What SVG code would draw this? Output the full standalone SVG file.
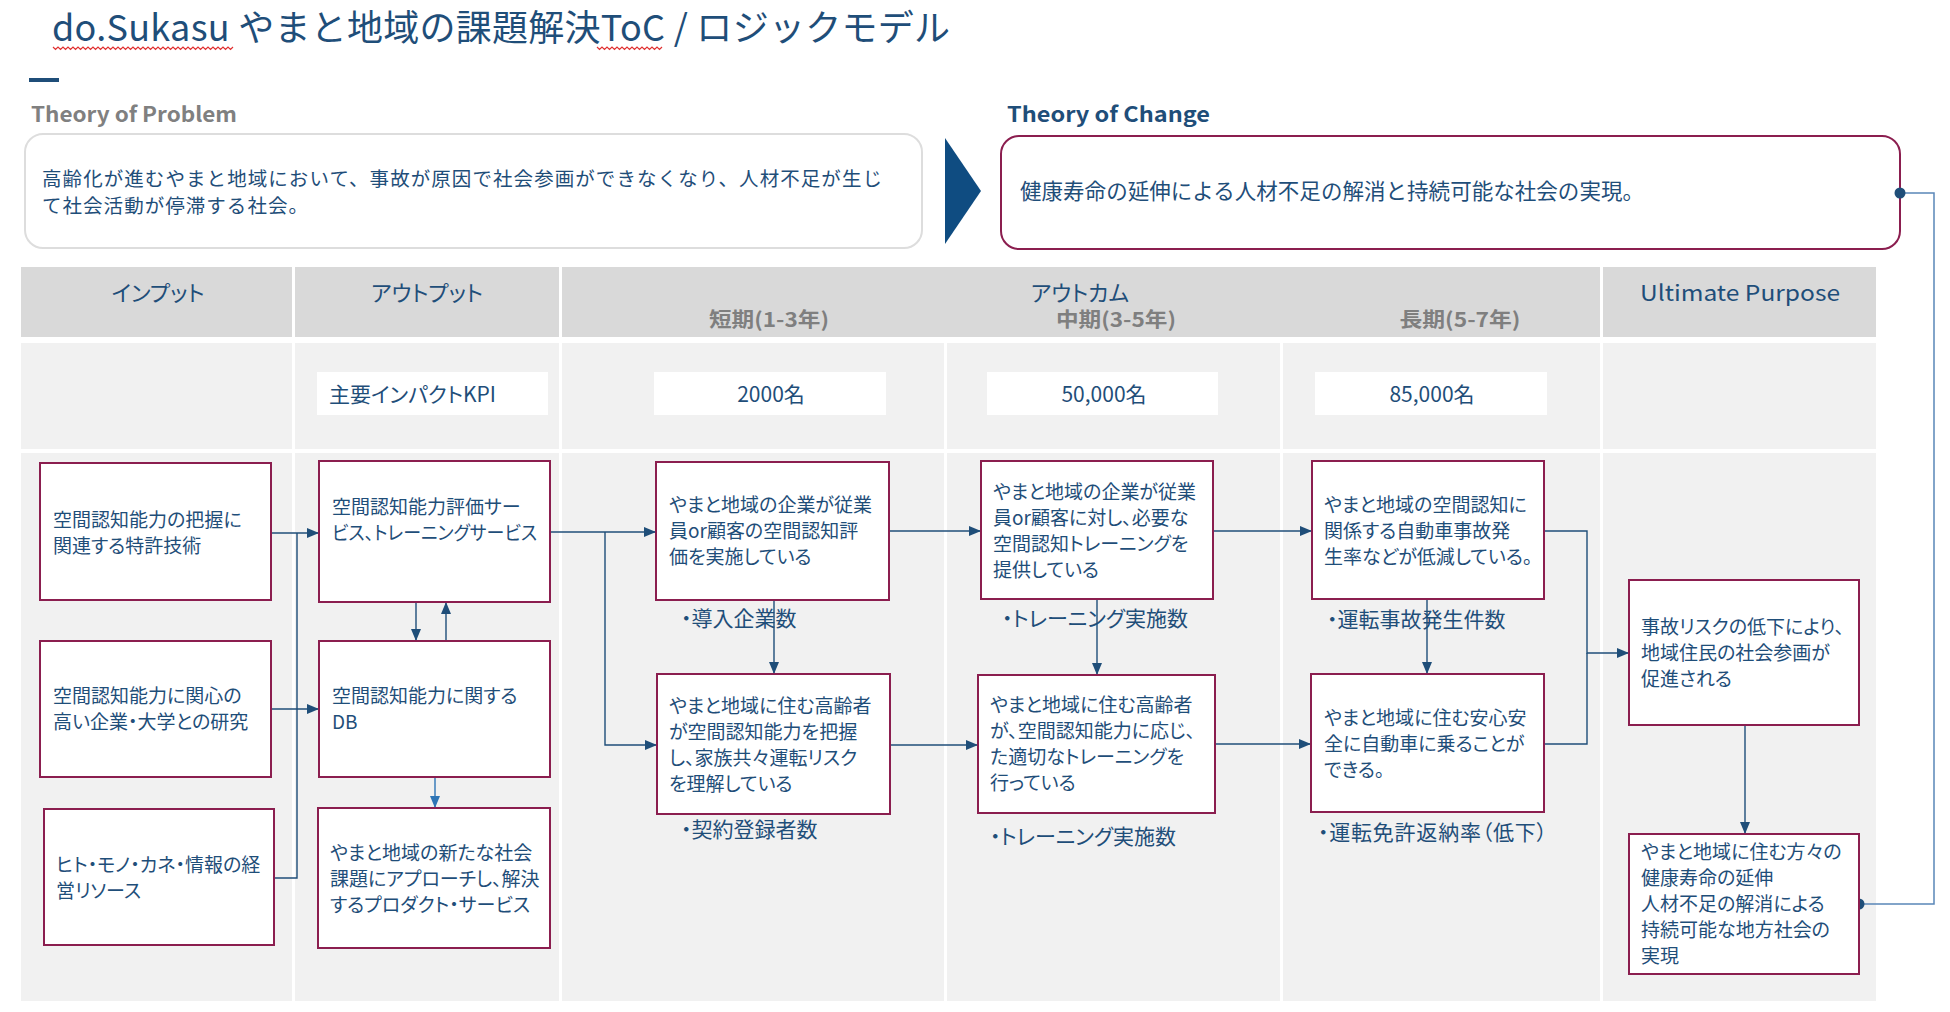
<svg xmlns="http://www.w3.org/2000/svg" width="1950" height="1012" viewBox="0 0 1950 1012">
<style>
text{font-family:"Noto Sans CJK JP","Noto Sans",sans-serif;fill:#1F4E79}
.bx{fill:#fff;stroke:#8B1E4F;stroke-width:2}
.t{font-size:19px;font-feature-settings:"palt" 1}
.kpi{font-size:21px;font-feature-settings:"palt" 1}
.hd{font-size:22px;font-feature-settings:"palt" 1;text-anchor:middle}
.sub{font-size:20px;font-weight:bold;fill:#7F7F7F;text-anchor:middle}
.cn{fill:none;stroke:#1F4E79;stroke-width:1.4}
.kbox{fill:#fff}
.hdr{fill:#D9D9D9}
.row{fill:#F1F1F1}
</style>
<defs>
<marker id="ah" viewBox="0 0 12 10" refX="12" refY="5" markerWidth="12" markerHeight="10" markerUnits="userSpaceOnUse" orient="auto"><path d="M0,0 L12,5 L0,10 z" fill="#1F4E79"/></marker>
<marker id="ahl" viewBox="0 0 12 10" refX="12" refY="5" markerWidth="12" markerHeight="10" markerUnits="userSpaceOnUse" orient="auto"><path d="M0,0 L12,5 L0,10 z" fill="#2E75B6"/></marker>
</defs>
<rect width="1950" height="1012" fill="#fff"/>

<g id="title">
<text x="52" y="41" font-size="36" textLength="898" lengthAdjust="spacing">do.Sukasu やまと地域の課題解決ToC / ロジックモデル</text>
<path d="M53,47 l2.5,2.5 l2.5,-2.5 l2.5,2.5 l2.5,-2.5 l2.5,2.5 l2.5,-2.5 l2.5,2.5 l2.5,-2.5 l2.5,2.5 l2.5,-2.5 l2.5,2.5 l2.5,-2.5 l2.5,2.5 l2.5,-2.5 l2.5,2.5 l2.5,-2.5 l2.5,2.5 l2.5,-2.5 l2.5,2.5 l2.5,-2.5 l2.5,2.5 l2.5,-2.5 l2.5,2.5 l2.5,-2.5 l2.5,2.5 l2.5,-2.5 l2.5,2.5 l2.5,-2.5 l2.5,2.5 l2.5,-2.5 l2.5,2.5 l2.5,-2.5 l2.5,2.5 l2.5,-2.5 l2.5,2.5 l2.5,-2.5 l2.5,2.5 l2.5,-2.5 l2.5,2.5 l2.5,-2.5 l2.5,2.5 l2.5,-2.5 l2.5,2.5 l2.5,-2.5 l2.5,2.5 l2.5,-2.5 l2.5,2.5 l2.5,-2.5 l2.5,2.5 l2.5,-2.5 l2.5,2.5 l2.5,-2.5 l2.5,2.5 l2.5,-2.5 l2.5,2.5 l2.5,-2.5 l2.5,2.5 l2.5,-2.5 l2.5,2.5 l2.5,-2.5 l2.5,2.5 l2.5,-2.5 l2.5,2.5 l2.5,-2.5 l2.5,2.5 l2.5,-2.5 l2.5,2.5 l2.5,-2.5 l2.5,2.5 l2.5,-2.5 l2.5,2.5 l2.5,-2.5" fill="none" stroke="#E03030" stroke-width="1.2"/>
<path d="M597,47 l2.5,2.5 l2.5,-2.5 l2.5,2.5 l2.5,-2.5 l2.5,2.5 l2.5,-2.5 l2.5,2.5 l2.5,-2.5 l2.5,2.5 l2.5,-2.5 l2.5,2.5 l2.5,-2.5 l2.5,2.5 l2.5,-2.5 l2.5,2.5 l2.5,-2.5 l2.5,2.5 l2.5,-2.5 l2.5,2.5 l2.5,-2.5 l2.5,2.5 l2.5,-2.5 l2.5,2.5 l2.5,-2.5 l2.5,2.5 l2.5,-2.5" fill="none" stroke="#E03030" stroke-width="1.2"/>
<rect x="29" y="78" width="30" height="4" fill="#1F4E79"/>
</g>

<g id="theory-of-problem">
<text x="31" y="122" font-size="21" font-weight="bold" style="fill:#808080" textLength="206" lengthAdjust="spacingAndGlyphs">Theory of Problem</text>
<rect x="25" y="134" width="897" height="114" rx="18" fill="#fff" stroke="#DDDDDD" stroke-width="2"/>
<text x="42" y="186" font-size="19.5" textLength="840" lengthAdjust="spacing">高齢化が進むやまと地域において、事故が原因で社会参画ができなくなり、人材不足が生じ</text>
<text x="42" y="213" font-size="19.5" textLength="266" lengthAdjust="spacing">て社会活動が停滞する社会。</text>
</g>

<g id="chevron">
<path d="M945,138 L981,191 L945,244 z" fill="#0F4C81"/>
</g>

<g id="theory-of-change">
<text x="1007" y="122" font-size="21" font-weight="bold" textLength="203" lengthAdjust="spacingAndGlyphs">Theory of Change</text>
<rect x="1001" y="136" width="899" height="113" rx="18" fill="#fff" stroke="#8B1E4F" stroke-width="2"/>
<text x="1020" y="199" font-size="21.5" textLength="624" lengthAdjust="spacing">健康寿命の延伸による人材不足の解消と持続可能な社会の実現。</text>
</g>

<g id="table">
<rect class="hdr" x="21" y="267" width="271" height="70"/>
<rect class="hdr" x="295" y="267" width="264" height="70"/>
<rect class="hdr" x="562" y="267" width="1038" height="70"/>
<rect class="hdr" x="1603" y="267" width="273" height="70"/>
<rect class="row" x="21" y="343" width="271" height="106"/>
<rect class="row" x="295" y="343" width="264" height="106"/>
<rect class="row" x="562" y="343" width="382" height="106"/>
<rect class="row" x="947" y="343" width="333" height="106"/>
<rect class="row" x="1283" y="343" width="317" height="106"/>
<rect class="row" x="1603" y="343" width="273" height="106"/>
<rect class="row" x="21" y="453" width="271" height="548"/>
<rect class="row" x="295" y="453" width="264" height="548"/>
<rect class="row" x="562" y="453" width="382" height="548"/>
<rect class="row" x="947" y="453" width="333" height="548"/>
<rect class="row" x="1283" y="453" width="317" height="548"/>
<rect class="row" x="1603" y="453" width="273" height="548"/>
<text class="hd" x="158" y="301">インプット</text>
<text class="hd" x="427" y="301">アウトプット</text>
<text class="hd" x="1080" y="301">アウトカム</text>
<text class="hd" x="1740" y="301" textLength="200" lengthAdjust="spacingAndGlyphs">Ultimate  Purpose</text>
<text class="sub" x="769" y="327" textLength="120" lengthAdjust="spacingAndGlyphs">短期(1-3年)</text>
<text class="sub" x="1116" y="327" textLength="120" lengthAdjust="spacingAndGlyphs">中期(3-5年)</text>
<text class="sub" x="1460" y="327" textLength="121" lengthAdjust="spacingAndGlyphs">長期(5-7年)</text>
</g>

<g id="kpi-row">
<rect class="kbox" x="317" y="372" width="231" height="43"/>
<text class="kpi" x="329" y="402" font-size="19">主要インパクトKPI</text>
<rect class="kbox" x="654" y="372" width="232" height="43"/>
<text class="kpi" x="771" y="402" text-anchor="middle">2000名</text>
<rect class="kbox" x="987" y="372" width="231" height="43"/>
<text class="kpi" x="1104" y="402" text-anchor="middle">50,000名</text>
<rect class="kbox" x="1315" y="372" width="232" height="43"/>
<text class="kpi" x="1432" y="402" text-anchor="middle">85,000名</text>
</g>

<g id="connectors">
<path class="cn" d="M271,533 H319" marker-end="url(#ah)"/>
<path class="cn" d="M297,533 V878 H274"/>
<path class="cn" d="M271,709 H319" marker-end="url(#ah)"/>
<path class="cn" d="M416,602 V641" marker-end="url(#ah)"/>
<path class="cn" d="M446,641 V602" marker-end="url(#ah)"/>
<path d="M435,777 V808" fill="none" stroke="#2E75B6" stroke-width="1.4" marker-end="url(#ahl)"/>
<path class="cn" d="M550,532 H656" marker-end="url(#ah)"/>
<path class="cn" d="M605,532 V745 H657" marker-end="url(#ah)"/>
<path class="cn" d="M774,600 V674" marker-end="url(#ah)"/>
<path class="cn" d="M889,531 H981" marker-end="url(#ah)"/>
<path class="cn" d="M890,745 H978" marker-end="url(#ah)"/>
<path class="cn" d="M1097,599 V675" marker-end="url(#ah)"/>
<path class="cn" d="M1213,531 H1312" marker-end="url(#ah)"/>
<path class="cn" d="M1215,744 H1311" marker-end="url(#ah)"/>
<path class="cn" d="M1427,599 V674" marker-end="url(#ah)"/>
<path class="cn" d="M1544,531 H1587 V653 H1629" marker-end="url(#ah)"/>
<path class="cn" d="M1544,744 H1587 V653"/>
<path class="cn" d="M1745,725 V834" marker-end="url(#ah)"/>
<path d="M1900,193 H1934 V904 H1859" fill="none" stroke="#5A86B8" stroke-width="1.5"/>
<circle cx="1900" cy="193" r="5.5" fill="#1F4E79"/>
<circle cx="1859" cy="904" r="5.5" fill="#1F4E79"/>
</g>

<g id="input-1">
<rect class="bx" x="40" y="463" width="231" height="137"/>
<text class="t" x="53" y="527">空間認知能力の把握に</text>
<text class="t" x="53" y="553">関連する特許技術</text>
</g>
<g id="input-2">
<rect class="bx" x="40" y="641" width="231" height="136"/>
<text class="t" x="53" y="703">空間認知能力に関心の</text>
<text class="t" x="53" y="729">高い企業・大学との研究</text>
</g>
<g id="input-3">
<rect class="bx" x="44" y="809" width="230" height="136"/>
<text class="t" x="56" y="872">ヒト・モノ・カネ・情報の経</text>
<text class="t" x="56" y="898">営リソース</text>
</g>

<g id="output-1">
<rect class="bx" x="319" y="461" width="231" height="141"/>
<text class="t" x="332" y="514">空間認知能力評価サー</text>
<text class="t" x="332" y="540" textLength="205" lengthAdjust="spacingAndGlyphs">ビス、トレーニングサービス</text>
</g>
<g id="output-2">
<rect class="bx" x="319" y="641" width="231" height="136"/>
<text class="t" x="332" y="703">空間認知能力に関する</text>
<text class="t" x="332" y="729">DB</text>
</g>
<g id="output-3">
<rect class="bx" x="318" y="808" width="232" height="140"/>
<text class="t" x="330" y="860">やまと地域の新たな社会</text>
<text class="t" x="330" y="886">課題にアプローチし、解決</text>
<text class="t" x="330" y="912">するプロダクト・サービス</text>
</g>

<g id="short-1">
<rect class="bx" x="656" y="462" width="233" height="138"/>
<text class="t" x="669" y="512">やまと地域の企業が従業</text>
<text class="t" x="669" y="538">員or顧客の空間認知評</text>
<text class="t" x="669" y="564">価を実施している</text>
</g>
<text class="kpi" x="681" y="626">・導入企業数</text>
<g id="short-2">
<rect class="bx" x="657" y="674" width="233" height="140"/>
<text class="t" x="669" y="713">やまと地域に住む高齢者</text>
<text class="t" x="669" y="739">が空間認知能力を把握</text>
<text class="t" x="669" y="765">し、家族共々運転リスク</text>
<text class="t" x="669" y="791">を理解している</text>
</g>
<text class="kpi" x="681" y="837">・契約登録者数</text>

<g id="mid-1">
<rect class="bx" x="981" y="461" width="232" height="138"/>
<text class="t" x="993" y="499">やまと地域の企業が従業</text>
<text class="t" x="993" y="525">員or顧客に対し、必要な</text>
<text class="t" x="993" y="551">空間認知トレーニングを</text>
<text class="t" x="993" y="577">提供している</text>
</g>
<text class="kpi" x="1002" y="626">・トレーニング実施数</text>
<g id="mid-2">
<rect class="bx" x="978" y="675" width="237" height="138"/>
<text class="t" x="990" y="712">やまと地域に住む高齢者</text>
<text class="t" x="990" y="738">が、空間認知能力に応じ、</text>
<text class="t" x="990" y="764">た適切なトレーニングを</text>
<text class="t" x="990" y="790">行っている</text>
</g>
<text class="kpi" x="990" y="844">・トレーニング実施数</text>

<g id="long-1">
<rect class="bx" x="1312" y="461" width="232" height="138"/>
<text class="t" x="1324" y="512">やまと地域の空間認知に</text>
<text class="t" x="1324" y="538">関係する自動車事故発</text>
<text class="t" x="1324" y="564">生率などが低減している。</text>
</g>
<text class="kpi" x="1327" y="627">・運転事故発生件数</text>
<g id="long-2">
<rect class="bx" x="1311" y="674" width="233" height="138"/>
<text class="t" x="1324" y="725">やまと地域に住む安心安</text>
<text class="t" x="1324" y="751">全に自動車に乗ることが</text>
<text class="t" x="1324" y="777">できる。</text>
</g>
<text class="kpi" x="1318" y="840" textLength="229" lengthAdjust="spacing">・運転免許返納率（低下）</text>

<g id="ultimate-1">
<rect class="bx" x="1629" y="580" width="230" height="145"/>
<text class="t" x="1641" y="634">事故リスクの低下により、</text>
<text class="t" x="1641" y="660">地域住民の社会参画が</text>
<text class="t" x="1641" y="686">促進される</text>
</g>
<g id="ultimate-2">
<rect class="bx" x="1629" y="834" width="230" height="140"/>
<text class="t" x="1641" y="859">やまと地域に住む方々の</text>
<text class="t" x="1641" y="885">健康寿命の延伸</text>
<text class="t" x="1641" y="911">人材不足の解消による</text>
<text class="t" x="1641" y="937">持続可能な地方社会の</text>
<text class="t" x="1641" y="963">実現</text>
</g>
</svg>
